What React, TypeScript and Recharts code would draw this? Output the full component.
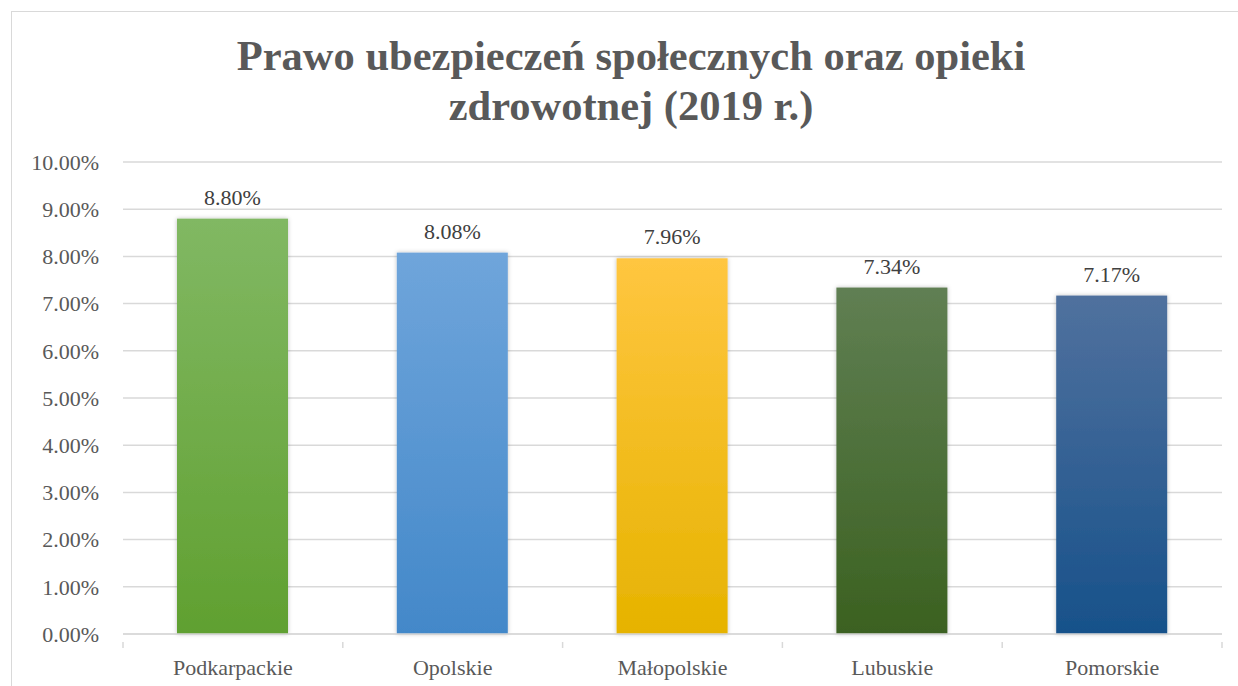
import React from 'react';
import { BarChart, Bar, XAxis, YAxis, CartesianGrid, Cell, LabelList } from 'recharts';

const regions = ['Podkarpackie', 'Opolskie', 'Małopolskie', 'Lubuskie', 'Pomorskie'];
const shares = [0.088, 0.0808, 0.0796, 0.0734, 0.0717];
const yTicks = [0, 0.01, 0.02, 0.03, 0.04, 0.05, 0.06, 0.07, 0.08, 0.09, 0.1];
const gradients = [
    ['#81b863', '#60a030'],
    ['#6fa5db', '#4388c9'],
    ['#ffc640', '#e6b300'],
    ['#607f53', '#3b6120'],
    ['#50719e', '#17518a'],
];

const chartData = regions.map((name, i) => ({ name, value: shares[i] }));

const font = "'Liberation Serif', 'DejaVu Serif', 'Noto Serif', serif";
const pct = (v: number) => (v * 100).toFixed(2) + '%';

const BAND = (1222 - 123) / regions.length;

const CategoryTick = (props: any) => {
    const { x, y, payload, index } = props;
    const left = x - BAND / 2;
    return (
        <g>
            <line x1={left} y1={y} x2={left} y2={y + 6} stroke="#d9d9d9" strokeWidth={1.5} />
            {index === regions.length - 1 && (
                <line x1={x + BAND / 2} y1={y} x2={x + BAND / 2} y2={y + 6} stroke="#d9d9d9" strokeWidth={1.5} />
            )}
            <text x={x} y={y + 33} textAnchor="middle" fill="#595959" fontSize={22} style={{ fontFamily: font }}>
                {payload.value}
            </text>
        </g>
    );
};

const ShadowBar = (props: any) => {
    const { x, y, width, height, fill } = props;
    return <rect x={x} y={y} width={width} height={height} fill={fill} filter="url(#barShadow)" />;
};

const App = () => {
    return (
        <div style={{ position: 'absolute', left: 0, top: 0, width: 1238, height: 686, background: '#fff', overflow: 'hidden' }}>
            <div
                style={{
                    position: 'absolute',
                    left: 11,
                    top: 11,
                    width: 1260,
                    height: 720,
                    border: '1.5px solid #d9d9d9',
                }}
            />
            <div
                style={{
                    position: 'absolute',
                    left: 0,
                    top: 31,
                    width: 1262,
                    textAlign: 'center',
                    fontFamily: font,
                    fontWeight: 'bold',
                    fontSize: 42.5,
                    lineHeight: '50px',
                    color: '#595959',
                }}
            >
                Prawo ubezpieczeń społecznych oraz opieki
                <br />
                zdrowotnej (2019 r.)
            </div>
            <div style={{ position: 'absolute', left: 0, top: 0, fontFamily: font }}>
                <BarChart
                    width={1238}
                    height={686}
                    data={chartData}
                    margin={{ top: 162, right: 16, bottom: 0, left: 0 }}
                    barSize={111}
                    style={{ fontFamily: font }}
                >
                    <defs>
                        {gradients.map((g, i) => (
                            <linearGradient key={i} id={`grad${i}`} x1="0" y1="0" x2="0" y2="1">
                                <stop offset="0%" stopColor={g[0]} />
                                <stop offset="100%" stopColor={g[1]} />
                            </linearGradient>
                        ))}
                        <filter id="barShadow" x="-10%" y="-10%" width="120%" height="120%">
                            <feDropShadow dx="0" dy="0" stdDeviation="2" floodColor="#000" floodOpacity="0.25" />
                        </filter>
                    </defs>
                    <CartesianGrid vertical={false} stroke="#d9d9d9" strokeWidth={1.5} />
                    <XAxis
                        dataKey="name"
                        axisLine={{ stroke: '#d9d9d9', strokeWidth: 1.5 }}
                        tickLine={false}
                        tick={<CategoryTick />}
                        interval={0}
                        height={52}
                    />
                    <YAxis
                        domain={[0, 0.1]}
                        ticks={yTicks}
                        tickFormatter={pct}
                        axisLine={false}
                        tickLine={false}
                        width={123}
                        tickMargin={18}
                        tick={{ fill: '#595959', fontSize: 22, style: { fontFamily: font } }}
                    />
                    <Bar dataKey="value" isAnimationActive={false} shape={<ShadowBar />}>
                        {chartData.map((_, i) => (
                            <Cell key={i} fill={`url(#grad${i})`} />
                        ))}
                        <LabelList
                            dataKey="value"
                            position="top"
                            offset={14}
                            formatter={(v: any) => pct(Number(v))}
                            fill="#404040"
                            fontSize={22}
                            style={{ fontFamily: font }}
                        />
                    </Bar>
                </BarChart>
            </div>
        </div>
    );
};

export default App;
